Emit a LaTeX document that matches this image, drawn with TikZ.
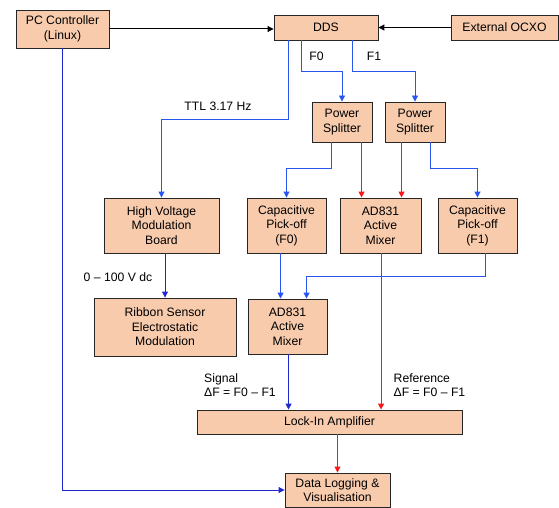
\documentclass[tikz,border=0pt]{standalone}
\usepackage{fontspec}
\setmainfont{Liberation Sans}
\usetikzlibrary{arrows.meta}
\definecolor{peach}{RGB}{248,203,173}
\definecolor{lblue}{RGB}{40,85,240}
\definecolor{dblue}{RGB}{30,40,205}
\definecolor{lred}{RGB}{250,25,25}
\begin{document}
\begin{tikzpicture}[x=1pt,y=-1pt,
  box/.style={draw=black!85, fill=peach, line width=0.9pt, align=center, inner sep=1pt,
    font=\fontsize{12.2}{14.6}\selectfont},
  lbl/.style={font=\fontsize{12.2}{14.3}\selectfont, inner sep=0pt, align=left},
  tip/.style={-{Triangle[width=6pt,length=6pt]}},
  bl/.style={tip, draw=lblue, line width=0.9pt},
  db/.style={tip, draw=dblue, line width=0.9pt},
  rd/.style={tip, draw=lred, line width=0.9pt},
  bk/.style={tip, draw=black, line width=1pt}]
\useasboundingbox (0,0) rectangle (559,508);
% boxes
\node[box, minimum width=93, minimum height=38] (pc) at (62.5,29) {PC Controller\\(Linux)};
\node[box, minimum width=104, minimum height=25] (dds) at (326,27.5) {DDS};
\node[box, minimum width=107, minimum height=25] (ocxo) at (504.5,27.5) {External OCXO};
\node[box, minimum width=60, minimum height=40] (ps1) at (342,122) {Power\\Splitter};
\node[box, minimum width=60, minimum height=40] (ps2) at (415,122) {Power\\Splitter};
\node[box, minimum width=115, minimum height=55] (hv) at (161.5,225.5) {High Voltage\\Modulation\\Board};
\node[box, minimum width=79, minimum height=55] (cap0) at (286.5,225.5) {Capacitive\\Pick-off\\(F0)};
\node[box, minimum width=81, minimum height=55] (mix1) at (380.5,225.5) {AD831\\Active\\Mixer};
\node[box, minimum width=79, minimum height=55] (cap1) at (477.5,225.5) {Capacitive\\Pick-off\\(F1)};
\node[box, minimum width=142, minimum height=58] (rib) at (165,327) {Ribbon Sensor\\Electrostatic\\Modulation};
\node[box, minimum width=79, minimum height=55] (mix2) at (287.5,326.5) {AD831\\Active\\Mixer};
\node[box, minimum width=265, minimum height=24] (lock) at (329.5,422) {Lock-In Amplifier};
\node[box, minimum width=105, minimum height=34] (dl) at (337.5,490) {Data Logging \&\\Visualisation};
% labels
\node[lbl] (ttl) at (218,106.5) {TTL 3.17 Hz};
\node[lbl] (f0) at (316.5,56.5) {F0};
\node[lbl] (f1) at (374,56.5) {F1};
\node[lbl] (vdc) at (118,277) {0 – 100 V dc};
\node[lbl, anchor=north west] (sig) at (204,373.5) {Signal\\ΔF = F0 – F1};
\node[lbl, anchor=north west] (ref) at (393.5,373.5) {Reference\\ΔF = F0 – F1};
% black inputs to DDS
\draw[bk] (pc.east) -- (pc.east -| dds.west);
\draw[bk] (ocxo.west) -- (ocxo.west -| dds.east);
% DDS outputs
\coordinate (ttls) at ([xshift=15pt]dds.south west);
\draw[bl] (ttls) -- ++(0,79) -| (hv.north);
\draw[bl] ([xshift=28pt]dds.south west) -- ++(0,31) -| (ps1.north);
\draw[bl] ([xshift=79pt]dds.south west) -- ++(0,31) -| (ps2.north);
% power splitter outputs
\draw[bl] ([xshift=20pt]ps1.south west) -- ++(0,26) -| (cap0.north);
\coordinate (r1) at ([xshift=50pt]ps1.south west);
\draw[rd] (r1) -- (r1 |- mix1.north);
\coordinate (r2) at ([xshift=17pt]ps2.south west);
\draw[rd] (r2) -- (r2 |- mix1.north);
\draw[bl] ([xshift=46pt]ps2.south west) -- ++(0,26) -| (cap1.north);
% HV to ribbon
\draw[db] (hv.south -| rib.north) -- (rib.north);
% pick-offs to mixer 2
\coordinate (m2a) at ([xshift=33pt]mix2.north west);
\draw[bl] (m2a |- cap0.south) -- (m2a);
\coordinate (m2b) at ([xshift=59pt]mix2.north west);
\draw[bl] ([xshift=48pt]cap1.south west) -- ++(0,23) -| (m2b);
% mixers to lock-in
\coordinate (s2) at ([xshift=41pt]mix2.south west);
\draw[db] (s2) -- (s2 |- lock.north);
\coordinate (s1) at ([xshift=41.5pt]mix1.south west);
\draw[rd] (s1) -- (s1 |- lock.north);
% lock-in to data logging
\draw[rd] (lock.south -| dl.north) -- (dl.north);
% PC to data logging
\draw[db] (pc.south) |- (dl.west);
\end{tikzpicture}
\end{document}
